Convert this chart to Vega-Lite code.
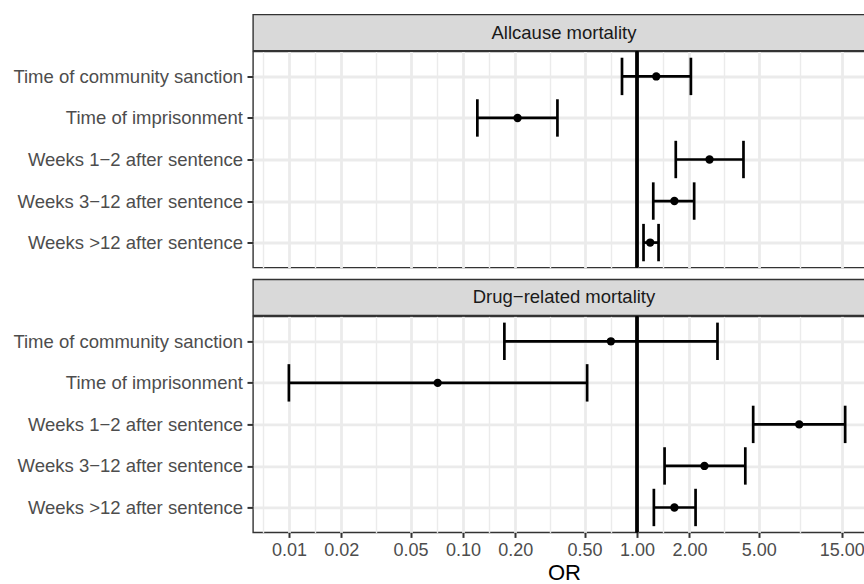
{
  "$schema": "https://vega.github.io/schema/vega-lite/v6.json",
  "padding": {"left": 12, "top": 13.5, "right": -11, "bottom": 0},
  "background": "white",
  "config": {
    "font": "Liberation Sans",
    "view": {"stroke": "#333333", "strokeWidth": 1.4},
    "axis": {
      "labelFont": "Liberation Sans", "labelFontSize": 18.5, "labelColor": "#4D4D4D", "labelLimit": 0,
      "tickColor": "#333333", "tickWidth": 2, "tickSize": 5, "domain": false,
      "gridColor": "#EBEBEB", "gridWidth": 2.8,
      "titleFont": "Liberation Sans", "titleFontWeight": "normal", "titleColor": "#000000", "titleFontSize": 22
    }
  },
  "datasets": {
    "or": [
      {"panel": "Allcause mortality", "period": "Time of community sanction", "OR": 1.29, "lower": 0.82, "upper": 2.04},
      {"panel": "Allcause mortality", "period": "Time of imprisonment", "OR": 0.206, "lower": 0.121, "upper": 0.349},
      {"panel": "Allcause mortality", "period": "Weeks 1−2 after sentence", "OR": 2.61, "lower": 1.67, "upper": 4.09},
      {"panel": "Allcause mortality", "period": "Weeks 3−12 after sentence", "OR": 1.64, "lower": 1.24, "upper": 2.13},
      {"panel": "Allcause mortality", "period": "Weeks >12 after sentence", "OR": 1.19, "lower": 1.09, "upper": 1.33},
      {"panel": "Drug−related mortality", "period": "Time of community sanction", "OR": 0.708, "lower": 0.173, "upper": 2.9},
      {"panel": "Drug−related mortality", "period": "Time of imprisonment", "OR": 0.0716, "lower": 0.01, "upper": 0.517},
      {"panel": "Drug−related mortality", "period": "Weeks 1−2 after sentence", "OR": 8.55, "lower": 4.65, "upper": 15.7},
      {"panel": "Drug−related mortality", "period": "Weeks 3−12 after sentence", "OR": 2.44, "lower": 1.44, "upper": 4.19},
      {"panel": "Drug−related mortality", "period": "Weeks >12 after sentence", "OR": 1.64, "lower": 1.25, "upper": 2.17}
    ],
    "strips": [
      {"panel": "Allcause mortality"},
      {"panel": "Drug−related mortality"}
    ]
  },
  "spacing": 7.9,
  "vconcat": [
    {
      "spacing": -4.4,
      "vconcat": [
        {
          "data": {"name": "strips"},
          "transform": [{"filter": "datum.panel == 'Allcause mortality'"}],
          "width": 622, "height": 36,
          "view": {"fill": "#D9D9D9", "stroke": "#333333", "strokeWidth": 1.4},
          "mark": {"type": "text", "fontSize": 18.5, "color": "#1A1A1A", "font": "Liberation Sans"},
          "encoding": {"text": {"field": "panel", "type": "nominal"}}
        },
        {
          "data": {"name": "or"},
          "transform": [{"filter": "datum.panel == 'Allcause mortality'"}],
          "width": 622, "height": 216,
          "encoding": {
            "y": {"field": "period", "type": "nominal", "sort": null,
                  "scale": {"type": "point", "padding": 0.6},
                  "axis": {"title": null, "grid": true, "labelPadding": 4.5, "tickSize": 6}}
          },
          "resolve": {"axis": {"x": "independent"}},
          "layer": [
            {
              "mark": {"type": "rule", "strokeWidth": 2.7, "color": "black"},
              "encoding": {"x": {"datum": 1, "type": "quantitative", "axis": null}, "y": null}
            },
            {
              "mark": {"type": "rule", "strokeWidth": 2.7, "color": "black"},
              "encoding": {
                "x": {"field": "lower", "type": "quantitative",
                      "scale": {"type": "log", "domain": [0.00622, 23.3], "nice": false},
                      "axis": {"orient": "bottom", "values": [0.0070711, 0.0141421, 0.0316228, 0.0707107, 0.1414214, 0.3162278, 0.7071068, 1.4142136, 3.1622777, 8.660254],
                               "grid": true, "gridWidth": 1.4, "labels": false, "ticks": false, "title": null}},
                "x2": {"field": "upper"}
              }
            },
            {
              "mark": {"type": "tick", "thickness": 2.7, "size": 37.4, "color": "black", "opacity": 1},
              "encoding": {
                "x": {"field": "lower", "type": "quantitative",
                      "axis": {"orient": "bottom", "values": [0.01, 0.02, 0.05, 0.1, 0.2, 0.5, 1, 2, 5, 15], "grid": true, "labels": false, "ticks": false, "title": null}}
              }
            },
            {
              "mark": {"type": "tick", "thickness": 2.7, "size": 37.4, "color": "black", "opacity": 1},
              "encoding": {"x": {"field": "upper", "type": "quantitative", "axis": null}}
            },
            {
              "mark": {"type": "point", "filled": true, "size": 70, "color": "black", "opacity": 1},
              "encoding": {"x": {"field": "OR", "type": "quantitative", "axis": null}}
            }
          ]
        }
      ]
    },
    {
      "spacing": -4.4,
      "vconcat": [
        {
          "data": {"name": "strips"},
          "transform": [{"filter": "datum.panel == 'Drug−related mortality'"}],
          "width": 622, "height": 36,
          "view": {"fill": "#D9D9D9", "stroke": "#333333", "strokeWidth": 1.4},
          "mark": {"type": "text", "fontSize": 18.5, "color": "#1A1A1A", "font": "Liberation Sans"},
          "encoding": {"text": {"field": "panel", "type": "nominal"}}
        },
        {
          "data": {"name": "or"},
          "transform": [{"filter": "datum.panel == 'Drug−related mortality'"}],
          "width": 622, "height": 216,
          "encoding": {
            "y": {"field": "period", "type": "nominal", "sort": null,
                  "scale": {"type": "point", "padding": 0.6},
                  "axis": {"title": null, "grid": true, "labelPadding": 4.5, "tickSize": 6}}
          },
          "resolve": {"axis": {"x": "independent"}},
          "layer": [
            {
              "mark": {"type": "rule", "strokeWidth": 2.7, "color": "black"},
              "encoding": {"x": {"datum": 1, "type": "quantitative", "axis": null}, "y": null}
            },
            {
              "mark": {"type": "rule", "strokeWidth": 2.7, "color": "black"},
              "encoding": {
                "x": {"field": "lower", "type": "quantitative",
                      "scale": {"type": "log", "domain": [0.00622, 23.3], "nice": false},
                      "axis": {"orient": "bottom", "values": [0.0070711, 0.0141421, 0.0316228, 0.0707107, 0.1414214, 0.3162278, 0.7071068, 1.4142136, 3.1622777, 8.660254],
                               "grid": true, "gridWidth": 1.4, "labels": false, "ticks": false, "title": null}},
                "x2": {"field": "upper"}
              }
            },
            {
              "mark": {"type": "tick", "thickness": 2.7, "size": 37.4, "color": "black", "opacity": 1},
              "encoding": {
                "x": {"field": "lower", "type": "quantitative",
                      "axis": {"orient": "bottom", "values": [0.01, 0.02, 0.05, 0.1, 0.2, 0.5, 1, 2, 5, 15], "format": ".2f",
                               "grid": true, "title": "OR", "labelFontSize": 18, "labelPadding": 4.5, "titlePadding": 3,
                               "labelOverlap": false, "labelFlush": false}}
              }
            },
            {
              "mark": {"type": "tick", "thickness": 2.7, "size": 37.4, "color": "black", "opacity": 1},
              "encoding": {"x": {"field": "upper", "type": "quantitative", "axis": null}}
            },
            {
              "mark": {"type": "point", "filled": true, "size": 70, "color": "black", "opacity": 1},
              "encoding": {"x": {"field": "OR", "type": "quantitative", "axis": null}}
            }
          ]
        }
      ]
    }
  ]
}
